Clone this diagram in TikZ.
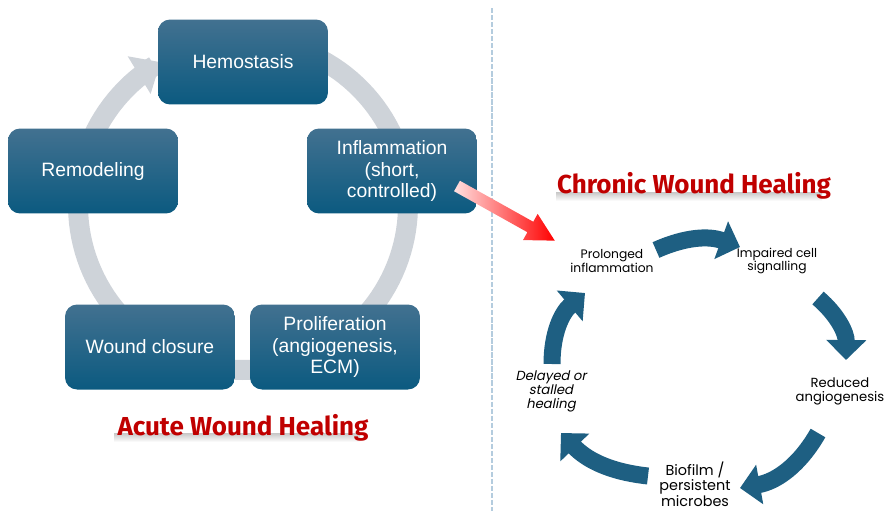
\documentclass[tikz,border=0pt]{standalone}
\usepackage{fontspec}
\setmainfont{Liberation Sans}
\newfontfamily\geofont{Poppins}
\newfontfamily\geoitfont[FakeSlant=0.2]{Poppins}
\newfontfamily\titlefont{Fira Sans}
\usetikzlibrary{arrows.meta,positioning,calc}

\definecolor{stagetop}{RGB}{66,113,144}
\definecolor{stagebot}{RGB}{11,90,128}
\definecolor{ringgray}{RGB}{206,211,217}
\definecolor{cycblue}{RGB}{30,95,130}
\definecolor{titlered}{RGB}{192,0,0}
\definecolor{divblue}{RGB}{180,204,222}

\begin{document}
\begin{tikzpicture}[x=0.02cm,y=-0.02cm,
	stage/.style={rounded corners=0.24cm, minimum width=3.4cm, minimum height=1.7cm,
		top color=stagetop, bottom color=stagebot, text=white, align=center,
		font=\fontsize{11}{12.5}\selectfont},
	cyclabel/.style={align=center, font=\geofont\fontsize{7.5}{8}\selectfont},
	headline/.style={font=\titlefont\bfseries\fontsize{14.8}{14.8}\selectfont, text=titlered},
	smudge/.style={top color=black!22, bottom color=white},
	cycarrow/.style={line width=0.34cm, cycblue, -{Triangle[length=0.4cm,width=0.78cm]}}]
	\useasboundingbox (0,0) rectangle (892,511);

	% acute cycle
	\draw[line width=0.4cm, ringgray, -{Triangle[length=0.5cm,width=0.85cm]}]
		plot[domain=-62:240, samples=120] ({243+165*cos(\x)},{205+165*sin(\x)});
	\node[stage] (hemo) at (243,62) {Hemostasis};
	\node[stage] (infl) at (392,171) {Inflammation\\(short,\\controlled)};
	\node[stage] (prolif) at (335,347) {Proliferation\\(angiogenesis,\\ECM)};
	\node[stage] (closure) at (150,347) {Wound closure};
	\node[stage] (remod) at (93,171) {Remodeling};
	\shade[smudge] (114,433) rectangle (360,442);
	\node[headline] (acute) at (243,428) {Acute Wound Healing};

	% divider
	\coordinate (divtop) at (492,8);
	\coordinate (divbot) at (492,511);
	\draw[divblue, line width=1.2pt, dash pattern=on 3pt off 1pt] (divtop) -- (divbot);

	% red arrow into chronic cycle
	\begin{scope}[shift={(457,186)}, rotate=-29.2]
		\shade[left color=red!12, right color=red]
			(0,-6) -- (84,-6) -- (84,-15) -- (112,0) -- (84,15) -- (84,6) -- (0,6) -- cycle;
	\end{scope}

	% chronic cycle
	\shade[smudge] (556,192) rectangle (822,201);
	\node[headline] (chronic) at (694,186) {Chronic Wound Healing};
	\node[cyclabel, font=\geofont\fontsize{7}{7.5}\selectfont] (prolonged) at (612,261) {Prolonged\\inflammation};
	\node[cyclabel, font=\geofont\fontsize{7}{7.5}\selectfont] (impaired) at (777,261) {Impaired cell\\signalling};
	\node[cyclabel] (reduced) at (840,391) {Reduced\\angiogenesis};
	\node[cyclabel, font=\geofont\fontsize{8.2}{8.8}\selectfont] (biofilm) at (695,484) {Biofilm /\\persistent\\microbes};
	\node[cyclabel, font=\geoitfont\fontsize{7.5}{8}\selectfont] (delayed) at (551,391) {Delayed or\\stalled\\healing};

	\coordinate (c1s) at (656,250);
	\coordinate (c1e) at (740,247);
	\coordinate (c2s) at (818,298);
	\coordinate (c2e) at (846,360);
	\coordinate (c3s) at (818,433);
	\coordinate (c3e) at (740,488);
	\coordinate (c4s) at (648,476);
	\coordinate (c4e) at (561,433);
	\coordinate (c5s) at (552,364);
	\coordinate (c5e) at (585,293);
	\draw[cycarrow] (c1s) to[bend left=22] (c1e);
	\draw[cycarrow] (c2s) to[bend left=25] (c2e);
	\draw[cycarrow] (c3s) to[bend left=25] (c3e);
	\draw[cycarrow] (c4s) to[bend left=20] (c4e);
	\draw[cycarrow] (c5s) to[bend left=25] (c5e);
\end{tikzpicture}
\end{document}
